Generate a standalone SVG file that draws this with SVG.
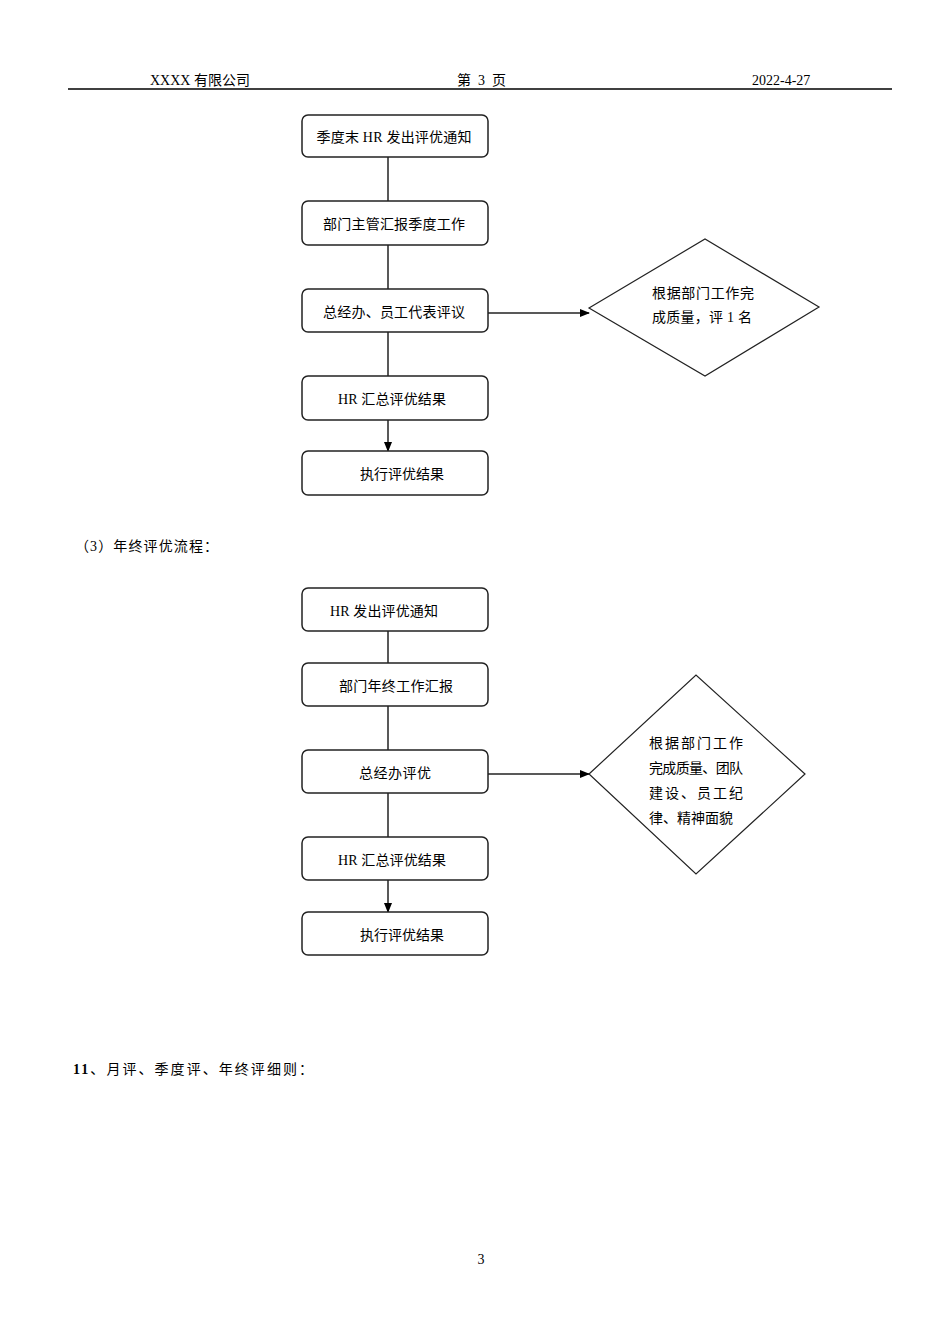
<svg xmlns="http://www.w3.org/2000/svg" width="950" height="1344" viewBox="0 0 950 1344">
<style>
text{font-family:"Liberation Serif","Noto Sans CJK SC",serif;font-size:14px;fill:#000}
.b{fill:#fff;stroke:#222;stroke-width:1.5}
.c line{stroke:#222;stroke-width:1.5}
.m{text-anchor:middle}
</style>
<defs><marker id="a" markerWidth="10" markerHeight="8" refX="9" refY="4" orient="auto" markerUnits="userSpaceOnUse"><path d="M0,0L10,4L0,8z" fill="#000"/></marker></defs>
<rect width="950" height="1344" fill="#fff"/>
<g id="header">
<text x="150" y="85">XXXX 有限公司</text>
<text x="457" y="85" textLength="49">第 3 页</text>
<text x="752" y="85">2022-4-27</text>
<line x1="68" y1="89" x2="892" y2="89" stroke="#000" stroke-width="1.5"/>
</g>
<g class="c" id="connectors">
<line x1="388" y1="157" x2="388" y2="201"/>
<line x1="388" y1="245" x2="388" y2="289"/>
<line x1="388" y1="332" x2="388" y2="376"/>
<line x1="388" y1="420" x2="388" y2="451" marker-end="url(#a)"/>
<line x1="488" y1="313" x2="589" y2="313" marker-end="url(#a)"/>
<line x1="388" y1="631" x2="388" y2="663"/>
<line x1="388" y1="706" x2="388" y2="750"/>
<line x1="388" y1="793" x2="388" y2="837"/>
<line x1="388" y1="880" x2="388" y2="912" marker-end="url(#a)"/>
<line x1="488" y1="774" x2="589" y2="774" marker-end="url(#a)"/>
</g>
<g id="q1"><rect class="b" x="302" y="115" width="186" height="42" rx="6"/><text class="m" x="394" y="142" textLength="155">季度末 HR 发出评优通知</text></g>
<g id="q2"><rect class="b" x="302" y="201" width="186" height="44" rx="6"/><text class="m" x="394" y="229" textLength="142">部门主管汇报季度工作</text></g>
<g id="q3"><rect class="b" x="302" y="289" width="186" height="43" rx="6"/><text class="m" x="394" y="317" textLength="142">总经办、员工代表评议</text></g>
<g id="q4"><rect class="b" x="302" y="376" width="186" height="44" rx="6"/><text class="m" x="392" y="404" textLength="108">HR 汇总评优结果</text></g>
<g id="q5"><rect class="b" x="302" y="451" width="186" height="44" rx="6"/><text class="m" x="402" y="479" textLength="84">执行评优结果</text></g>
<g id="qd"><polygon points="589,308 705,239 819,307 705,376" fill="#fff" stroke="#222" stroke-width="1.2"/><text x="652" y="298" textLength="102">根据部门工作完</text><text x="652" y="322" textLength="100">成质量，评 1 名</text></g>
<text x="75" y="551" font-size="15.5" textLength="143">（3）年终评优流程：</text>
<g id="y1"><rect class="b" x="302" y="588" width="186" height="43" rx="6"/><text class="m" x="384" y="616" textLength="108">HR 发出评优通知</text></g>
<g id="y2"><rect class="b" x="302" y="663" width="186" height="43" rx="6"/><text class="m" x="396" y="691" textLength="114">部门年终工作汇报</text></g>
<g id="y3"><rect class="b" x="302" y="750" width="186" height="43" rx="6"/><text class="m" x="395" y="778" textLength="72">总经办评优</text></g>
<g id="y4"><rect class="b" x="302" y="837" width="186" height="43" rx="6"/><text class="m" x="392" y="865" textLength="108">HR 汇总评优结果</text></g>
<g id="y5"><rect class="b" x="302" y="912" width="186" height="43" rx="6"/><text class="m" x="402" y="940" textLength="84">执行评优结果</text></g>
<g id="yd"><polygon points="589,774 696,675 805,774 696,874" fill="#fff" stroke="#222" stroke-width="1.2"/>
<text x="649" y="748" textLength="94">根据部门工作</text><text x="649" y="773" textLength="94">完成质量、团队</text><text x="649" y="798" textLength="94">建设、员工纪</text><text x="649" y="823" textLength="84">律、精神面貌</text></g>
<text x="73" y="1074" font-size="16" textLength="240"><tspan font-weight="bold">11</tspan>、月评、季度评、年终评细则：</text>
<text class="m" x="481" y="1264">3</text>
</svg>
